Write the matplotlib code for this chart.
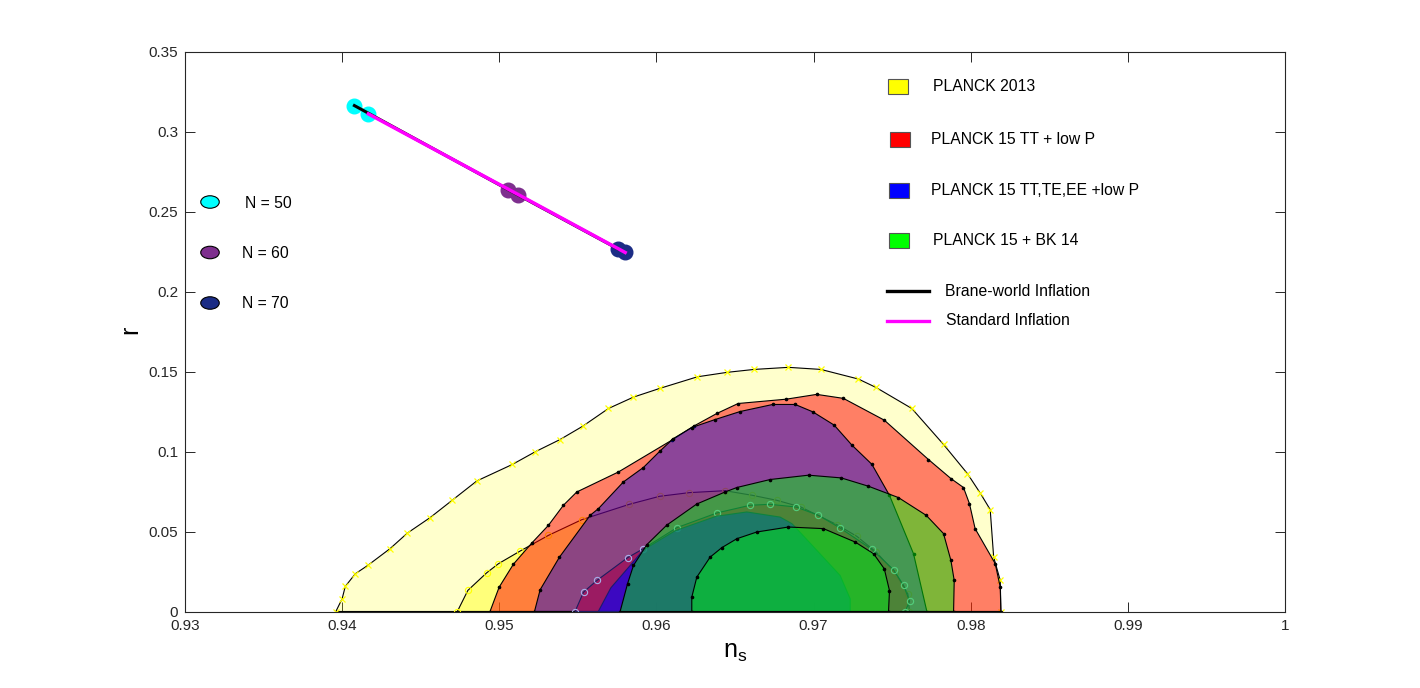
import matplotlib.pyplot as plt
from matplotlib.patches import Rectangle, Ellipse
from matplotlib.lines import Line2D

plt.rcParams['font.family'] = ['Liberation Sans', 'DejaVu Sans']
plt.rcParams['mathtext.fontset'] = 'custom'
plt.rcParams['mathtext.rm'] = 'Liberation Sans'

# Planck 2013 contours (95% and 68%)
p13_95_ns = [0.9396, 0.9400, 0.9402, 0.94084, 0.94163, 0.94305, 0.94415, 0.9456, 0.9470,
             0.94857, 0.95083, 0.95228, 0.95387, 0.95531, 0.95695, 0.95854, 0.9602, 0.96261,
             0.96452, 0.96622, 0.9684, 0.97046, 0.97285, 0.97396, 0.97625, 0.97827, 0.97979,
             0.9806, 0.98124, 0.98146, 0.98188, 0.98192]
p13_95_r = [0.0, 0.0080, 0.0157, 0.0236, 0.0288, 0.0393, 0.0490, 0.0587, 0.0695,
            0.0816, 0.0919, 0.0998, 0.1075, 0.1158, 0.1269, 0.1340, 0.1394, 0.1467,
            0.1495, 0.1513, 0.1526, 0.1513, 0.1453, 0.1401, 0.1269, 0.1044, 0.0862,
            0.0741, 0.0637, 0.0340, 0.0194, 0.0]
p13_68_ns = [0.94733, 0.9480, 0.9492, 0.94995, 0.95133, 0.95313, 0.95525, 0.95828, 0.9602,
             0.9621, 0.96437, 0.96611, 0.96766, 0.96919, 0.97148, 0.97275, 0.9740, 0.9752,
             0.9760, 0.9761]
p13_68_r = [0.0, 0.0132, 0.0242, 0.0299, 0.0378, 0.0476, 0.0574, 0.0670, 0.0720,
            0.0743, 0.0755, 0.0726, 0.0695, 0.0653, 0.0543, 0.0470, 0.0370, 0.0240,
            0.0110, 0.0]

# Planck 2015 TT + lowP
tt_95_ns = [0.94941, 0.94999, 0.9509, 0.95207, 0.95313, 0.95408, 0.95493, 0.95758, 0.96098,
            0.96236, 0.96385, 0.9652, 0.96826, 0.9702, 0.9719, 0.9745, 0.97731, 0.97874,
            0.97954, 0.97992, 0.98028, 0.98156, 0.98188, 0.98192]
tt_95_r = [0.0, 0.0152, 0.0296, 0.0428, 0.0539, 0.0664, 0.0747, 0.0872, 0.1071,
           0.1158, 0.1238, 0.1300, 0.1327, 0.1357, 0.1332, 0.1196, 0.0950, 0.0831,
           0.0775, 0.0674, 0.0518, 0.0299, 0.0152, 0.0]
tt_68_ns = [0.95482, 0.95536, 0.95621, 0.95816, 0.95917, 0.9613, 0.96385, 0.96596, 0.96723,
            0.96889, 0.97031, 0.97169, 0.97371, 0.97509, 0.97573, 0.97611, 0.97583]
tt_68_r = [0.0, 0.0121, 0.0194, 0.0336, 0.0393, 0.0524, 0.0616, 0.0664, 0.0670,
           0.0653, 0.0601, 0.0522, 0.0388, 0.0261, 0.0163, 0.0064, 0.0]

# Planck 2015 TT,TE,EE + lowP
ttteee_95_ns = [0.95224, 0.9526, 0.95383, 0.95578, 0.95631, 0.9579, 0.95917, 0.96024, 0.96108,
                0.96225, 0.96374, 0.96533, 0.9674, 0.96883, 0.96995, 0.97131, 0.97244, 0.97371,
                0.97483, 0.97636, 0.97721]
ttteee_95_r = [0.0, 0.0136, 0.0340, 0.0601, 0.0643, 0.0810, 0.0900, 0.1004, 0.1081,
               0.1150, 0.1200, 0.1250, 0.1294, 0.1294, 0.1248, 0.1165, 0.1040, 0.0920,
               0.0726, 0.0361, 0.0]
ttteee_68_ns = [0.9563, 0.9571, 0.95843, 0.95917, 0.9612, 0.9638, 0.96575, 0.96787, 0.96862,
                0.96883, 0.97169, 0.97233, 0.97233]
ttteee_68_r = [0.0, 0.0148, 0.0299, 0.0385, 0.0505, 0.0595, 0.0622, 0.0590, 0.0549,
               0.0528, 0.0225, 0.0079, 0.0]

# Planck 2015 + BK14
bk_95_ns = [0.95769, 0.95816, 0.95854, 0.95939, 0.96066, 0.96257, 0.96437, 0.96512, 0.96724,
            0.96968, 0.97176, 0.97349, 0.9754, 0.97717, 0.97827, 0.97874, 0.97895, 0.97891]
bk_95_r = [0.0, 0.0173, 0.0288, 0.0418, 0.0540, 0.0672, 0.0747, 0.0775, 0.0825,
           0.0852, 0.0835, 0.0783, 0.0712, 0.0601, 0.0487, 0.0319, 0.0194, 0.0]
bk_68_ns = [0.96225, 0.96225, 0.96257, 0.96342, 0.96416, 0.96512, 0.96639, 0.9684, 0.97063,
            0.97265, 0.97382, 0.9745, 0.97483, 0.97477]
bk_68_r = [0.0, 0.0090, 0.0215, 0.0340, 0.0399, 0.0455, 0.0497, 0.0528, 0.0518,
           0.0434, 0.0361, 0.0267, 0.0131, 0.0]

# model predictions for N = 50, 60, 70
efolds = ["N = 50", "N = 60", "N = 70"]
brane_ns = [0.94078, 0.95058, 0.95758]
brane_r = [0.3162, 0.2636, 0.2265]
standard_ns = [0.94167, 0.95122, 0.95801]
standard_r = [0.3110, 0.2605, 0.2244]

x_ticks = [0.93, 0.94, 0.95, 0.96, 0.97, 0.98, 0.99, 1.0]
x_tick_labels = ["0.93", "0.94", "0.95", "0.96", "0.97", "0.98", "0.99", "1"]
y_ticks = [0, 0.05, 0.1, 0.15, 0.2, 0.25, 0.3, 0.35]
y_tick_labels = ["0", "0.05", "0.1", "0.15", "0.2", "0.25", "0.3", "0.35"]

dataset_labels = ["PLANCK 2013", "PLANCK 15 TT + low P",
                  "PLANCK 15 TT,TE,EE +low P", "PLANCK 15 + BK 14"]
model_labels = ["Brane-world Inflation", "Standard Inflation"]

W, H = 1420, 688
fig = plt.figure(figsize=(W / 100, H / 100), dpi=100)
ax = fig.add_axes([185 / W, 1 - 611.5 / H, 1100 / W, 560 / H])

# (ns, r, face rgba, edge colour, marker, marker colour)
layers = [
    (p13_95_ns, p13_95_r, (1, 1, 0, 0.2), "k", "x", (1, 1, 0)),
    (p13_68_ns, p13_68_r, (1, 1, 0, 0.4), "k", "o", (1, 1, 0)),
    (tt_95_ns, tt_95_r, (1, 0, 0, 0.5), "k", ".", "k"),
    (ttteee_95_ns, ttteee_95_r, (0, 0, 0.85, 0.45), "k", ".", "k"),
    (tt_68_ns, tt_68_r, (0.65, 0, 0.3, 0.6), "#1c1c60", "o", "#a8b0ea"),
    (ttteee_68_ns, ttteee_68_r, (0.08, 0, 0.92, 0.7), "#1a1a70", None, None),
    (bk_95_ns, bk_95_r, (0, 0.92, 0.06, 0.5), "k", ".", "k"),
    (bk_68_ns, bk_68_r, (0, 0.9, 0.1, 0.5), "k", ".", "k"),
]

for i, (xs, ys, face, edge, mk, mc) in enumerate(layers):
    ax.fill(xs, ys, facecolor=face, edgecolor=edge, linewidth=0.8, zorder=2 + i)
    if mk == "o":
        ax.plot(xs, ys, linestyle="none", marker="o", markersize=4.5,
                markerfacecolor="none", markeredgecolor=mc, markeredgewidth=0.8,
                zorder=2.5 + i)
    elif mk == "x":
        ax.plot(xs, ys, linestyle="none", marker="x", markersize=4,
                color=mc, markeredgewidth=0.9, zorder=2.5 + i)
    elif mk == ".":
        ax.plot(xs, ys, linestyle="none", marker="o", markersize=1.6,
                color=mc, zorder=2.5 + i)

n_colors = ["#00FFFF", "#7E2F8E", "#1B2C85"]
for i in range(3):
    ax.plot([brane_ns[i], standard_ns[i]], [brane_r[i], standard_r[i]],
            linestyle="none", marker="o", markersize=10.5,
            color=n_colors[i], zorder=20)
ax.plot(brane_ns, brane_r, color="k", linewidth=2.2, zorder=21)
ax.plot(standard_ns, standard_r, color="#FF00FF", linewidth=2.5, zorder=22)

ax.set_xlim(0.93, 1.0)
ax.set_ylim(0, 0.35)
ax.set_xticks(x_ticks)
ax.set_xticklabels(x_tick_labels)
ax.set_yticks(y_ticks)
ax.set_yticklabels(y_tick_labels)
ax.tick_params(direction="in", length=7.5, width=0.7, top=True, right=True,
               labelsize=11, colors="#262626")
ax.tick_params(axis="x", pad=5.5)
ax.tick_params(axis="y", pad=5)
for s in ax.spines.values():
    s.set_linewidth(0.8)
    s.set_color("#262626")
    s.set_zorder(30)

ax.set_xlabel(r"$\mathregular{n_s}$", fontsize=18, labelpad=5)
ax.set_ylabel(r"$\mathregular{r}$", fontsize=18, labelpad=3)


def fx(px):
    return px / W


def fy(py):
    return 1 - py / H


# left legend (number of e-folds)
ell_y = [202, 252.5, 303]
txt_x = [245, 242.5, 242.5]
for i in range(3):
    fig.add_artist(Ellipse((fx(210), fy(ell_y[i])), 18.5 / W, 12.5 / H,
                           transform=fig.transFigure, facecolor=n_colors[i],
                           edgecolor="k", linewidth=0.8))
    fig.text(fx(txt_x[i]), fy(ell_y[i] + 1), efolds[i], fontsize=11.3,
             ha="left", va="center")

# right legend (data sets)
sq_colors = ["#FFFF00", "#FF0000", "#0000FF", "#00FF00"]
sq_x = [897.5, 899.5, 899, 899]
sq_y = [86.5, 139.5, 190.5, 240.3]
lab_x = [933, 931, 931, 933]
for i in range(4):
    fig.add_artist(Rectangle((fx(sq_x[i] - 10), fy(sq_y[i] + 7.5)), 20 / W, 15 / H,
                             transform=fig.transFigure, facecolor=sq_colors[i],
                             edgecolor="#555555", linewidth=0.8))
    fig.text(fx(lab_x[i]), fy(sq_y[i]), dataset_labels[i], fontsize=11.3,
             ha="left", va="center")

line_colors = ["k", "#FF00FF"]
line_y = [291, 320.7]
line_lab_x = [945.5, 946.5]
for i in range(2):
    fig.add_artist(Line2D([fx(887), fx(929)], [fy(line_y[i]), fy(line_y[i])],
                          transform=fig.transFigure, color=line_colors[i],
                          linewidth=2.4))
    fig.text(fx(line_lab_x[i]), fy(line_y[i]), model_labels[i], fontsize=11.3,
             ha="left", va="center")

fig.savefig("out.png", dpi=100)
